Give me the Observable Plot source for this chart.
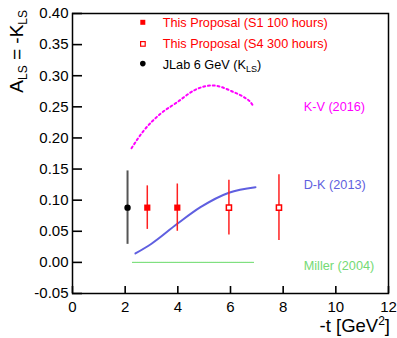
<!DOCTYPE html>
<html><head><meta charset="utf-8">
<script src="https://cdn.jsdelivr.net/npm/d3@7"></script>
<script src="https://cdn.jsdelivr.net/npm/@observablehq/plot@0.6"></script>
<style>body{margin:0;background:#fff} svg{display:block}</style>
</head><body><div id="chart"></div>
<script>
const FONT = "'Liberation Sans', Arial, Helvetica, sans-serif";

// tick values
const xTicks = [0, 2, 4, 6, 8, 10, 12];
const yTicks = [-0.05, 0, 0.05, 0.10, 0.15, 0.20, 0.25, 0.30, 0.35, 0.40];

// data points
const jlabT = [2.09];       const jlabA = [0.088]; const jlabErr = [0.059];
const s1T = [2.84, 3.98];   const s1A = [0.088, 0.088]; const s1Err = [0.035, 0.038];
const s4T = [5.94, 7.84];   const s4A = [0.088, 0.088]; const s4Err = [0.044, 0.053];

// model curves
const kvT = [2.24, 2.71, 3.34, 3.98, 4.61, 5.31, 6.13, 6.51, 6.76, 6.89];
const kvA = [0.1835, 0.212, 0.2388, 0.2575, 0.2763, 0.2843, 0.2735, 0.2655, 0.2575, 0.2495];
const dkT = [2.39, 3.0, 3.98, 4.86, 5.94, 6.95];
const dkA = [0.0143, 0.030, 0.062, 0.0887, 0.112, 0.1208];
const millerT = [2.28, 6.87];
const millerA = [0.0, 0.0];

// curve labels (anchored in data space)
const curveLabels = ["K-V (2016)", "D-K (2013)", "Miller (2004)"];
const curveLabelT = [8.78, 8.78, 8.78];
const curveLabelA = [0.25, 0.124, -0.006];
const curveColors = ["#ff00ff", "#5f5fe0", "#74da74"];

const zip = (t, a, e) => t.map((v, i) => ({t: v, a: a[i], e: e ? e[i] : 0}));
const jlab = zip(jlabT, jlabA, jlabErr);
const s1 = zip(s1T, s1A, s1Err);
const s4 = zip(s4T, s4A, s4Err);
const kv = zip(kvT, kvA);
const dk = zip(dkT, dkA);
const miller = zip(millerT, millerA);
const labels = curveLabels.map((l, i) => ({l, t: curveLabelT[i], a: curveLabelA[i], c: curveColors[i]}));

const W = 397, H = 338, ML = 72, MR = 9, MT = 13, MB = 45;
const innerW = W - ML - MR, innerH = H - MT - MB;

const fig = Plot.plot({
  width: W, height: H,
  marginLeft: ML, marginRight: MR, marginTop: MT, marginBottom: MB,
  style: {fontFamily: FONT, fontSize: "15px", background: "#fff", color: "#000"},
  x: {domain: [0, 12]},
  y: {domain: [-0.05, 0.40]},
  marks: [
    Plot.line(miller, {x: "t", y: "a", stroke: "#80e080", strokeWidth: 1.3, strokeDasharray: "1,1"}),
    Plot.line(kv, {x: "t", y: "a", stroke: curveColors[0], strokeWidth: 2, strokeDasharray: "2,2.8", curve: "monotone-x"}),
    Plot.line(dk, {x: "t", y: "a", stroke: curveColors[1], strokeWidth: 2, curve: "monotone-x"}),
    Plot.ruleX(jlab, {x: "t", y1: d => d.a - d.e, y2: d => d.a + d.e, stroke: "#555", strokeWidth: 2}),
    Plot.ruleX(s1, {x: "t", y1: d => d.a - d.e, y2: d => d.a + d.e, stroke: "#ff2020", strokeWidth: 1.5}),
    Plot.ruleX(s4, {x: "t", y1: d => d.a - d.e, y2: d => d.a + d.e, stroke: "#ff2020", strokeWidth: 1.5}),
    Plot.dot(jlab, {x: "t", y: "a", r: 3.2, fill: "#000"}),
    Plot.dot(s1, {x: "t", y: "a", symbol: "square", r: 3.5, fill: "#ff0000"}),
    Plot.dot(s4, {x: "t", y: "a", symbol: "square", r: 2.9, fill: "#fff", stroke: "#ff0000", strokeWidth: 1.5}),
    Plot.text(labels, {x: "t", y: "a", text: "l", fill: "c", textAnchor: "start", fontSize: 12.7}),
    Plot.frame({stroke: "#000", strokeWidth: 1.5}),
    Plot.tickY(yTicks, {y: d => d, insetRight: innerW - 10, stroke: "#000", strokeWidth: 1.6}),
    Plot.tickX(xTicks, {x: d => d, insetTop: innerH - 7, stroke: "#000", strokeWidth: 1.6}),
    Plot.axisY({ticks: yTicks, tickSize: 0, tickPadding: 4, tickFormat: d => d.toFixed(2), fontSize: 15, label: null}),
    Plot.axisX({ticks: xTicks, tickSize: 0, tickPadding: 8, tickFormat: d => String(d), fontSize: 15, label: null})
  ]
});
document.getElementById("chart").appendChild(fig);

const svg = d3.select(fig);

// rich text helper (sub/superscripts)
function rich(sel, parts) {
  parts.forEach(p => {
    const ts = sel.append("tspan").text(p.t);
    if (p.sub) ts.attr("font-size", p.size).attr("dy", p.shift);
    else if (p.sup) ts.attr("font-size", p.size).attr("dy", -p.shift);
    if (p.back) ts.attr("dy", p.back);
  });
}

const g = svg.append("g").attr("font-family", FONT).attr("text-anchor", "start");

// legend
const legendTexts = ["This Proposal (S1 100 hours)", "This Proposal (S4 300 hours)", "JLab 6 GeV (K"];
g.append("rect").attr("x", 140.3).attr("y", 19.8).attr("width", 5).attr("height", 5).attr("fill", "#ff0000");
g.append("rect").attr("x", 140.6).attr("y", 41.6).attr("width", 4.6).attr("height", 4.6)
  .attr("fill", "#fff").attr("stroke", "#ff0000").attr("stroke-width", 1.2);
g.append("circle").attr("cx", 142.8).attr("cy", 63.6).attr("r", 2.8).attr("fill", "#000");
g.append("text").attr("x", 162.7).attr("y", 26.7).attr("font-size", 12.7).attr("fill", "#ff0000").text(legendTexts[0]);
g.append("text").attr("x", 162.7).attr("y", 48.4).attr("font-size", 12.7).attr("fill", "#ff0000").text(legendTexts[1]);
rich(g.append("text").attr("x", 162.7).attr("y", 69).attr("font-size", 12.7).attr("fill", "#000"),
  [{t: legendTexts[2]}, {t: "LS", sub: true, size: 9, shift: 3}, {t: ")", back: -3}]);

// y axis title
rich(g.append("text").attr("transform", "translate(23.3,10) rotate(-90)").attr("text-anchor", "end")
  .attr("font-size", 19).attr("fill", "#000"),
  [{t: "A"}, {t: "LS", sub: true, size: 12, shift: 3.4}, {t: " = -K", back: -3.4}, {t: "LS", sub: true, size: 12, shift: 3.4}]);

// x axis title
rich(g.append("text").attr("x", 390).attr("y", 331.5).attr("text-anchor", "end")
  .attr("font-size", 18.5).attr("fill", "#000"),
  [{t: "-t [GeV"}, {t: "2", sup: true, size: 12, shift: 7}, {t: "]", back: 7}]);
</script>
</body></html>
